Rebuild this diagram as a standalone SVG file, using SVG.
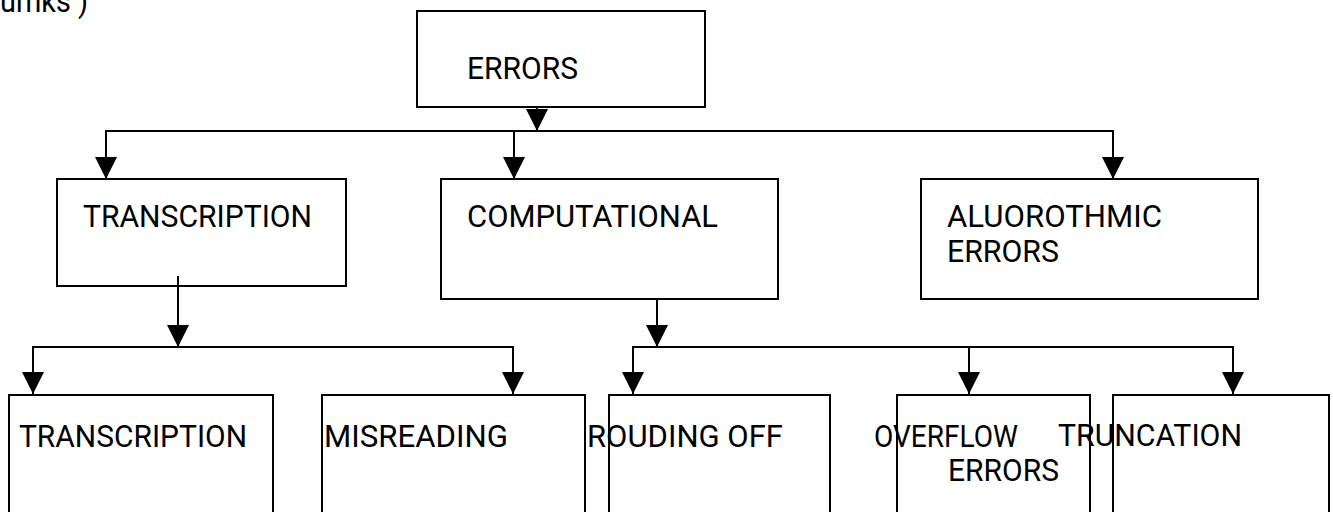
<svg xmlns="http://www.w3.org/2000/svg" width="1333" height="512" viewBox="0 0 1333 512">
<defs>
<marker id="ah" viewBox="0 0 22 22" refX="22" refY="11" markerWidth="22" markerHeight="22" markerUnits="userSpaceOnUse" orient="auto-start-reverse">
<path d="M0,0 L22,11 L0,22 Z" fill="#000"/>
</marker>
<style>
.box{fill:#fff;stroke:#000;stroke-width:2}
.t{font-family:Roboto,"Liberation Sans",sans-serif;font-size:32px;fill:#000}
.c{fill:none;stroke:#000;stroke-width:2}
</style>
</defs>
<rect width="1333" height="512" fill="#fff"/>
<text class="t" x="0" y="12" textLength="88" lengthAdjust="spacingAndGlyphs">umks )</text>
<g id="n-errors"><rect class="box" x="417" y="11" width="288" height="96"/><text class="t" x="467" y="79" textLength="111" lengthAdjust="spacingAndGlyphs">ERRORS</text></g>
<g id="n-transcription1"><rect class="box" x="57" y="179" width="289" height="107"/><text class="t" x="83" y="227" textLength="229" lengthAdjust="spacingAndGlyphs">TRANSCRIPTION</text></g>
<g id="n-computational"><rect class="box" x="441" y="179" width="337" height="120"/><text class="t" x="467" y="227" textLength="251" lengthAdjust="spacingAndGlyphs">COMPUTATIONAL</text></g>
<g id="n-aluorothmic"><rect class="box" x="921" y="179" width="337" height="120"/><text class="t" x="947" y="227" textLength="215" lengthAdjust="spacingAndGlyphs">ALUOROTHMIC</text><text class="t" x="947" y="262" textLength="112" lengthAdjust="spacingAndGlyphs">ERRORS</text></g>
<g id="n-transcription2"><rect class="box" x="9" y="395" width="264" height="130"/><text class="t" x="19" y="447" textLength="228" lengthAdjust="spacingAndGlyphs">TRANSCRIPTION</text></g>
<g id="n-misreading"><rect class="box" x="322" y="395" width="263" height="130"/><text class="t" x="324" y="447" textLength="184" lengthAdjust="spacingAndGlyphs">MISREADING</text></g>
<g id="n-rouding"><rect class="box" x="609" y="395" width="221" height="130"/></g>
<g id="n-overflow"><rect class="box" x="897" y="395" width="193" height="130"/></g>
<g id="n-truncation"><rect class="box" x="1113" y="395" width="216" height="130"/></g>
<g id="connectors">
<path class="c" d="M537,107 L537,131" marker-end="url(#ah)"/>
<path class="c" d="M106,179 L106,131 L1113,131 L1113,179" marker-start="url(#ah)" marker-end="url(#ah)"/>
<path class="c" d="M514,131 L514,179" marker-end="url(#ah)"/>
<path class="c" d="M178,276 L178,347" marker-end="url(#ah)"/>
<path class="c" d="M33,394 L33,347 L513,347 L513,394" marker-start="url(#ah)" marker-end="url(#ah)"/>
<path class="c" d="M657,299 L657,347" marker-end="url(#ah)"/>
<path class="c" d="M633,394 L633,347 L1233,347 L1233,394" marker-start="url(#ah)" marker-end="url(#ah)"/>
<path class="c" d="M969,347 L969,394" marker-end="url(#ah)"/>
</g>
<text class="t" x="587" y="447" textLength="196" lengthAdjust="spacingAndGlyphs">ROUDING OFF</text>
<text class="t" x="874" y="447" textLength="144" lengthAdjust="spacingAndGlyphs">OVERFLOW</text>
<text class="t" x="948" y="481" textLength="111" lengthAdjust="spacingAndGlyphs">ERRORS</text>
<text class="t" x="1058" y="446" textLength="184" lengthAdjust="spacingAndGlyphs">TRUNCATION</text>
</svg>
